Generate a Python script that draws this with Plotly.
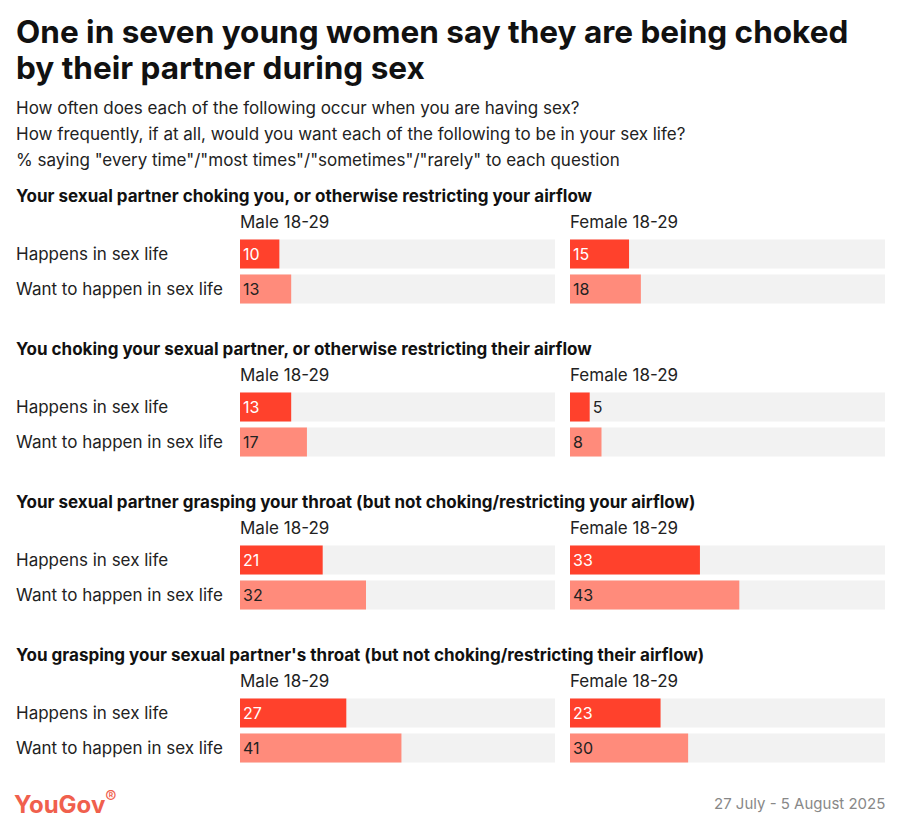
import plotly.graph_objects as go

# the page puts the plot 8px in from the top left corner, so shrink and shift
OFF = 8
W, H = 903 - OFF, 834 - OFF

questions = [
    "Your sexual partner choking you, or otherwise restricting your airflow",
    "You choking your sexual partner, or otherwise restricting their airflow",
    "Your sexual partner grasping your throat (but not choking/restricting your airflow)",
    "You grasping your sexual partner's throat (but not choking/restricting their airflow)",
]
groups = ["Male 18-29", "Female 18-29"]
rows = ["Happens in sex life", "Want to happen in sex life"]

# values per question: [happens, want]
male_vals = [[10, 13], [13, 17], [21, 32], [27, 41]]
female_vals = [[15, 18], [5, 8], [33, 43], [23, 30]]

RED = "#ff412c"
SALMON = "#ff8b7b"
GREY = "#f2f2f2"
XMAX = 80

col_px = [(240, 555), (570, 885)]
sec_top = [196, 349, 502, 655]


def px_(p):
    return (p - OFF) / W


def py(p):
    return 1 - (p - OFF) / H


fig = go.Figure()
layout = dict(
    width=W, height=H, margin=dict(l=0, r=0, t=0, b=0),
    plot_bgcolor="white", paper_bgcolor="white", showlegend=False,
    font=dict(family="Inter, Noto Sans, sans-serif", color="#222"),
    barmode="overlay",
)
annotations = []


def label(x, y, text, size, color="#222", anchor="left"):
    # annotations carry ~2px of padding, pull left-anchored ones back
    if anchor == "left":
        x -= 2
    annotations.append(dict(x=px_(x), y=py(y), xref="paper", yref="paper",
                            text=text, showarrow=False, xanchor=anchor,
                            yanchor="middle", font=dict(size=size, color=color)))


n = 0
for qi, q in enumerate(questions):
    top = sec_top[qi]
    c1 = top + 58
    y0, y1 = c1 - 17.5, c1 + 35 + 17.5
    label(16, top, "<b>" + q + "</b>", 17, "#111")
    for ri, r in enumerate(rows):
        label(16, c1 + 35 * ri, r, 17)
    for gi, g in enumerate(groups):
        n += 1
        vals = (male_vals if gi == 0 else female_vals)[qi]
        xa = "x" if n == 1 else f"x{n}"
        ya = "y" if n == 1 else f"y{n}"
        label(col_px[gi][0], top + 26, g, 17)
        fig.add_trace(go.Bar(x=[XMAX, XMAX], y=[0, 1], orientation="h", width=0.83,
                             marker=dict(color=GREY, line_width=0), xaxis=xa, yaxis=ya,
                             hoverinfo="skip"))
        pos = ["inside" if v >= 7 else "outside" for v in vals]
        tcol = ["white" if (i == 0 and v >= 7) else "#222" for i, v in enumerate(vals)]
        fig.add_trace(go.Bar(x=vals, y=[0, 1], orientation="h", width=0.83,
                             marker=dict(color=[RED, SALMON], line_width=0),
                             text=[str(v) for v in vals], textposition=pos,
                             insidetextanchor="start", textangle=0,
                             textfont=dict(size=16, color=tcol), cliponaxis=False,
                             xaxis=xa, yaxis=ya))
        layout["xaxis" if n == 1 else f"xaxis{n}"] = dict(
            domain=[px_(col_px[gi][0]), px_(col_px[gi][1])], range=[0, XMAX],
            visible=False, anchor=ya, fixedrange=True)
        layout["yaxis" if n == 1 else f"yaxis{n}"] = dict(
            domain=[py(y1), py(y0)], range=[1.5, -0.5], visible=False,
            anchor=xa, fixedrange=True)

label(16, 32, "<b>One in seven young women say they are being choked</b>", 31.5, "#111")
label(16, 68, "<b>by their partner during sex</b>", 31.5, "#111")
label(16, 108, "How often does each of the following occur when you are having sex?", 17)
label(16, 134, "How frequently, if at all, would you want each of the following to be in your sex life?", 17)
label(16, 160, '% saying "every time"/"most times"/"sometimes"/"rarely" to each question', 17)
label(14, 803, "<b>YouGov</b><sup>®</sup>", 24, "#f0604d")
label(887, 803, "27 July - 5 August 2025", 15, "#888", "right")

layout["annotations"] = annotations
fig.update_layout(**layout)
fig.write_html("out.html")
